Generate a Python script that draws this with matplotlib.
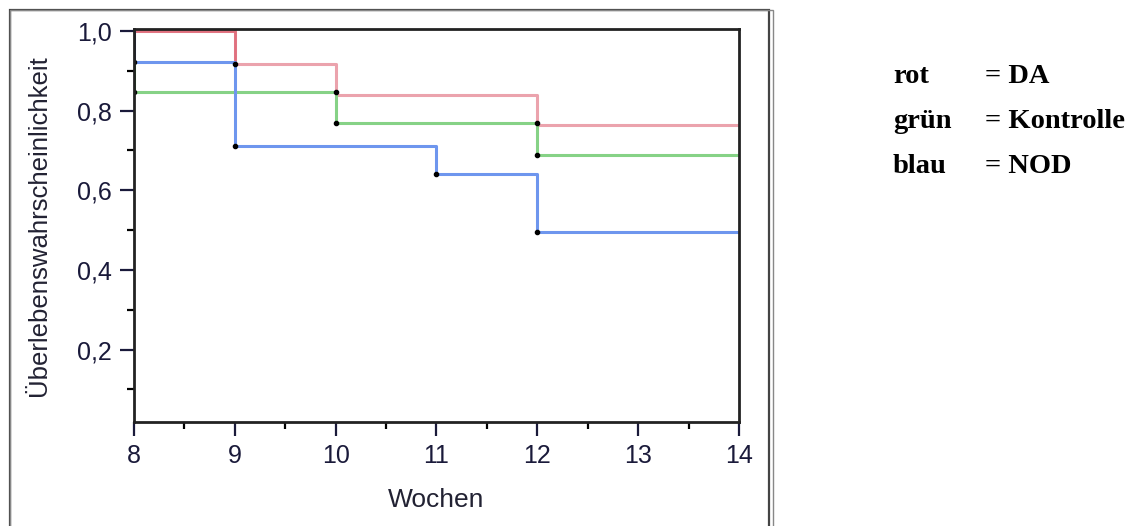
import matplotlib.pyplot as plt
from matplotlib.patches import Rectangle

# Kaplan-Meier Stufen (Wochen, Überlebenswahrscheinlichkeit)
wochen_da = [8, 9, 10, 12, 14]
surv_da = [1.0, 0.917, 0.840, 0.764, 0.764]

wochen_kontrolle = [8, 8, 10, 12, 14]
surv_kontrolle = [0.923, 0.846, 0.769, 0.688, 0.688]

wochen_nod = [8, 8, 9, 11, 12, 14]
surv_nod = [1.0, 0.923, 0.710, 0.640, 0.495, 0.495]

# Ereignispunkte (schwarze Punkte)
punkte_x = [8, 8, 9, 9, 10, 10, 11, 12, 12, 12]
punkte_y = [0.923, 0.846, 0.917, 0.710, 0.846, 0.769, 0.640, 0.769, 0.688, 0.495]

x_ticks = [8, 9, 10, 11, 12, 13, 14]
y_ticks = [0.2, 0.4, 0.6, 0.8, 1.0]
y_labels = ['0,2', '0,4', '0,6', '0,8', '1,0']

legende = [('rot', '= DA'), ('grün', '= Kontrolle'), ('blau', '= NOD')]

plt.rcParams['font.family'] = ['Liberation Sans', 'DejaVu Sans']

fig = plt.figure(figsize=(11.36, 5.26), dpi=100)

# äußerer Rahmen
fig.patches.append(Rectangle((10 / 1136, -0.01), 759 / 1136, 1 - 10 / 526 + 0.01,
                             transform=fig.transFigure, fill=False,
                             edgecolor='#444444', linewidth=1.6))
fig.patches.append(Rectangle((10 / 1136, -0.01), 763 / 1136, 1 - 10 / 526 + 0.01,
                             transform=fig.transFigure, fill=False,
                             edgecolor='#888888', linewidth=1.0))

ax = fig.add_axes([134 / 1136, 1 - 422 / 526, 605 / 1136, 393 / 526])

ax.step(wochen_da, surv_da, where='post', color='#eba3ad', linewidth=2.2)
ax.plot([8, 9, 9], [1.0, 1.0, 0.917], color='#e0707e', linewidth=2.0)
ax.step(wochen_kontrolle, surv_kontrolle, where='post', color='#86d286', linewidth=2.2)
ax.plot([8, 8], [0.923, 0.846], color='#2a8a2a', linewidth=2.0)
ax.step(wochen_nod, surv_nod, where='post', color='#6e96ee', linewidth=2.2)
ax.plot([8, 8], [1.0, 0.923], color='#1a2a6a', linewidth=2.0)
ax.plot(punkte_x, punkte_y, 'ko', markersize=3, linestyle='none')

ax.set_xlim(8, 14)
ax.set_ylim(0.018, 1.005)
ax.set_xticks(x_ticks)
ax.set_xticks([8.5, 9.5, 10.5, 11.5, 12.5, 13.5], minor=True)
ax.set_yticks(y_ticks)
ax.set_yticklabels(y_labels)
ax.set_yticks([0.1, 0.3, 0.5, 0.7, 0.9], minor=True)
ax.tick_params(axis='both', which='major', direction='out', length=10, width=1.6,
               labelsize=18, colors='#1a1a3a', pad=6)
ax.tick_params(axis='both', which='minor', direction='out', length=5, width=1.6)
for s in ax.spines.values():
    s.set_linewidth(2.0)
    s.set_color('#222222')

ax.set_xlabel('Wochen', fontsize=19, color='#222233', labelpad=14)
ax.set_ylabel('Überlebenswahrscheinlichkeit', fontsize=18.5, color='#222233', labelpad=19)

for i, (farbe, gruppe) in enumerate(legende):
    y = 1 - (83 + i * 45) / 526
    fig.text(893 / 1136, y, farbe, fontsize=20.5, fontweight='bold',
             family='Liberation Serif', va='baseline')
    fig.text(985 / 1136, y, gruppe, fontsize=20.5, fontweight='bold',
             family='Liberation Serif', va='baseline')

fig.savefig('out.png', dpi=100)
